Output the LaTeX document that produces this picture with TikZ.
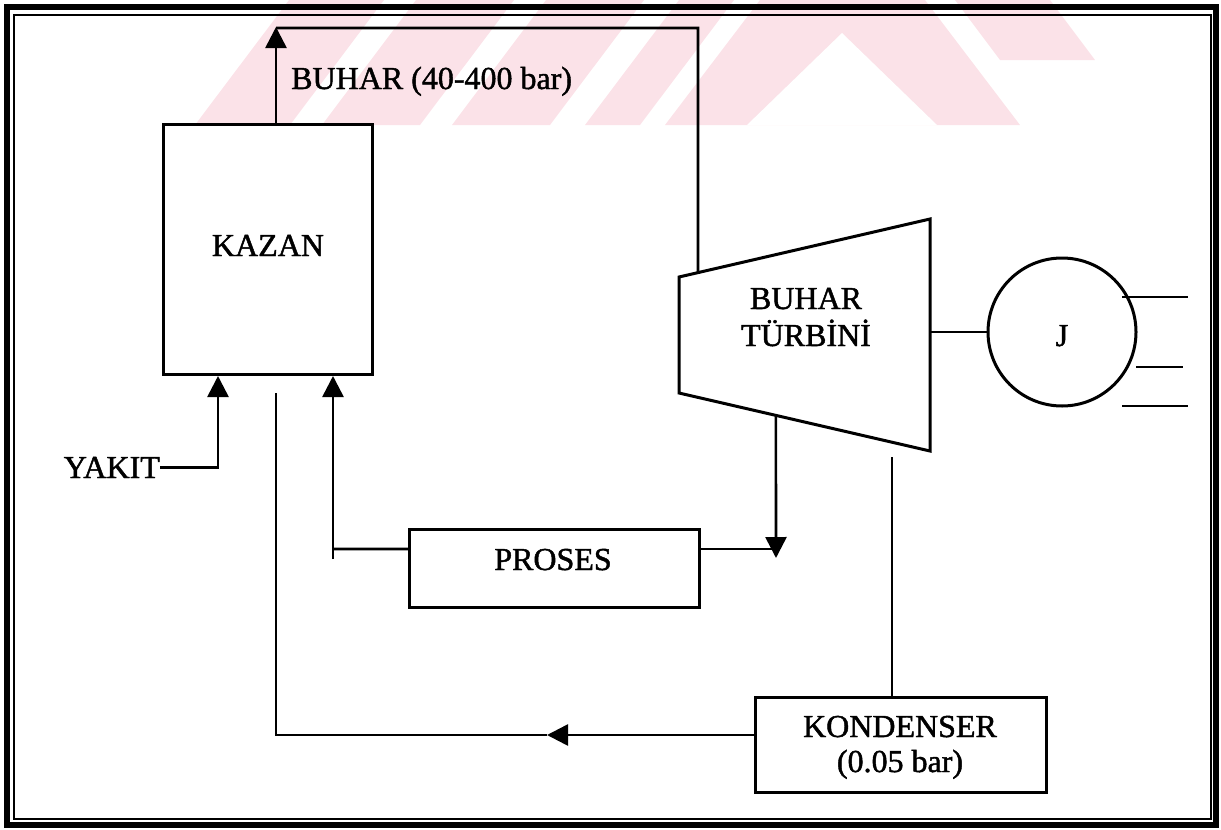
\documentclass[tikz,border=0pt]{standalone}
\usepackage{fontspec}
\setmainfont{Liberation Serif}
\newfontface\heavy{Liberation Serif}[FakeBold=1.4]
\usetikzlibrary{arrows.meta,calc}
\definecolor{wm}{RGB}{251,226,232}
\begin{document}
\begin{tikzpicture}[x=1pt,y=-1pt,
  ln/.style={line width=2.6pt},
  box/.style={draw,line width=3pt,inner sep=0pt,outer sep=0pt},
  arr/.style={line width=2.6pt,-{Triangle[length=21pt,width=21pt]}},
  lbl/.style={font=\heavy\fontsize{32}{36}\selectfont,inner sep=0pt}]
\useasboundingbox (0,0) rectangle (1221,830);
% watermark
\fill[wm] (195,125) -- (290,125) -- (384,0) -- (289,0) -- cycle;
\fill[wm] (322,125) -- (420,125) -- (514,0) -- (416,0) -- cycle;
\fill[wm] (452,125) -- (550,125) -- (644,0) -- (546,0) -- cycle;
\fill[wm] (585,125) -- (640,125) -- (734,0) -- (679,0) -- cycle;
\fill[wm] (665,125) -- (760,0) -- (925,0) -- (1020,125) -- cycle;
\fill[white] (747,125) -- (842,33) -- (937,125) -- cycle;
\fill[wm] (955,0) -- (1050,0) -- (1095,60) -- (1000,60) -- cycle;
% frame
\draw[line width=6pt] (6.5,7) rectangle (1216,824.5);
\draw[line width=2.5pt] (14,15) rectangle (1211,819);
% boxes
\node[box,minimum width=209pt,minimum height=250pt] (kazan) at (267.5,249) {};
\node[lbl,anchor=base] (kazant) at (268,256) {KAZAN};
\node[box,minimum width=290pt,minimum height=78pt] (proses) at (554,568) {};
\node[lbl,anchor=base] (prosest) at (553,570) {PROSES};
\node[box,minimum width=291pt,minimum height=95pt] (kond) at (900.5,744.5) {};
\node[lbl,anchor=base] (kond1) at (900,737) {KONDENSER};
\node[lbl,anchor=base] (kond2) at (900,772) {(0.05 bar)};
% turbine
\coordinate (tl) at (679,277);
\coordinate (tr) at (930,219);
\coordinate (br) at (930,451);
\coordinate (bl) at (679,393);
\draw[line width=3pt,line join=miter] (tl) -- (tr) -- (br) -- (bl) -- cycle;
\node[lbl,anchor=base] (turb1) at (806,309) {BUHAR};
\node[lbl,anchor=base] (turb2) at (806,346) {TÜRBİNİ};
% generator
\node[draw,circle,line width=3pt,minimum size=148pt,inner sep=0pt] (gen) at (1062,332) {};
\node[lbl,anchor=base] (gent) at (1062,346) {J};
\draw[ln] (gen.west -| tr) -- (gen.west);
\coordinate (o1a) at (1122,297); \coordinate (o1b) at (1188,297);
\coordinate (o2a) at (1136,367); \coordinate (o2b) at (1183,367);
\coordinate (o3a) at (1122,406); \coordinate (o3b) at (1188,406);
\draw[ln] (o1a) -- (o1b);
\draw[ln] (o2a) -- (o2b);
\draw[ln] (o3a) -- (o3b);
% steam line
\coordinate (kzout) at (276,124);
\coordinate (scorner) at (276,27);
\coordinate (sright) at (698,28);
\coordinate (tin) at ($(tl)!0.0757!(tr)$);
\draw[arr] (kzout) -- (scorner);
\draw[ln] (scorner |- sright) -- (sright) -- (tin);
\node[lbl,anchor=base west] (steam) at (291,89) {BUHAR (40-400 bar)};
% fuel
\node[lbl,anchor=base east] (yakit) at (160,478) {YAKIT};
\coordinate (kzin1) at (218,376);
\draw[arr] (yakit.east) -| (kzin1);
% process return
\coordinate (kzin2) at (333,376);
\coordinate (pt) at (333,559);
\coordinate (pj) at (333,549);
\coordinate (pl) at ($(proses.north west)!0.256!(proses.south west)$);
\coordinate (pr) at ($(proses.north east)!0.256!(proses.south east)$);
\draw[arr] (pt) -- (kzin2);
\draw[ln] (pl) -- (pj);
% extraction
\coordinate (tex) at ($(bl)!0.386!(br)$);
\coordinate (exd) at (776,558);
\draw[arr] (tex) -- (exd);
\draw[ln] (pr) -- (tex |- pr);
% condenser
\coordinate (tcd) at (892,457);
\draw[ln] (tcd) -- (tcd |- kond.north);
\coordinate (kr) at (755,735);
\coordinate (ra) at (547,735);
\coordinate (rc) at (276,735);
\coordinate (rtop) at (276,393);
\draw[arr] (kr) -- (ra);
\draw[ln] (ra) -- (rc) -- (rtop);
\end{tikzpicture}
\end{document}
